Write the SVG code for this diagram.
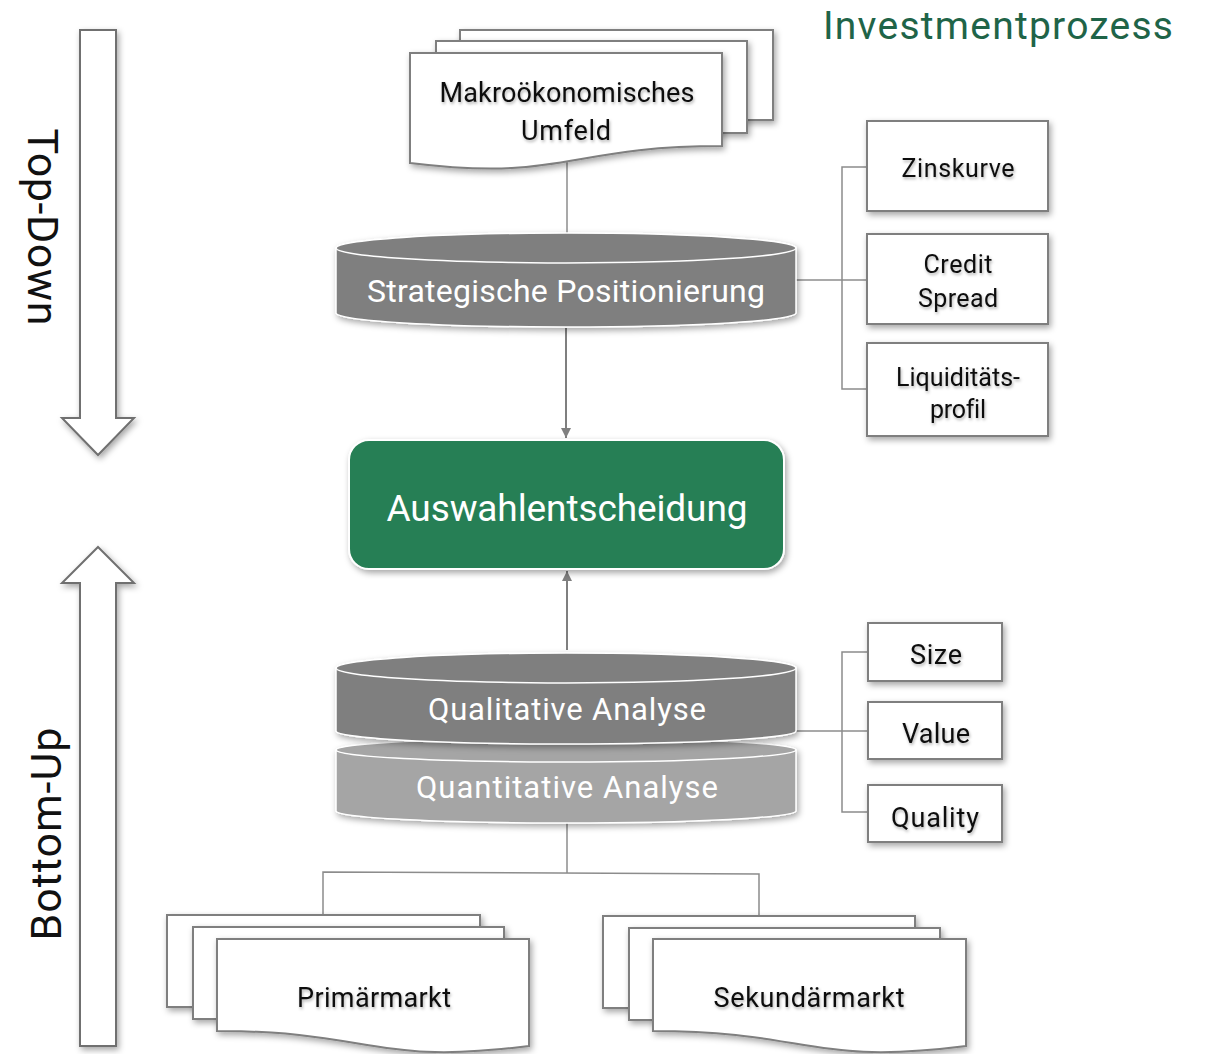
<svg xmlns="http://www.w3.org/2000/svg" width="1205" height="1054" viewBox="0 0 1205 1054">
  <defs>
    <filter id="sh" x="-10%" y="-10%" width="130%" height="140%">
      <feDropShadow dx="2" dy="3" stdDeviation="3" flood-color="#000" flood-opacity="0.35"/>
    </filter>
    <filter id="tsh" x="-10%" y="-20%" width="130%" height="160%">
      <feDropShadow dx="1" dy="2" stdDeviation="1.5" flood-color="#000" flood-opacity="0.3"/>
    </filter>
    <marker id="ah" viewBox="0 0 10 10" refX="10" refY="5" markerWidth="5" markerHeight="5" orient="auto-start-reverse">
      <path d="M0,0 L10,5 L0,10 Z" fill="#7f7f7f"/>
    </marker>
  </defs>
  <style>
    text{font-variant-ligatures:none}
    .doc{fill:#fff;stroke:#7f7f7f;stroke-width:2;filter:url(#sh)}
    .box{fill:#fff;stroke:#7f7f7f;stroke-width:2;filter:url(#sh)}
    .conn{fill:none;stroke:#8c8c8c;stroke-width:1.5}
    .t{font-family:Roboto,"Liberation Sans",sans-serif;fill:#111;text-anchor:middle;filter:url(#tsh)}
    .w{font-family:Roboto,"Liberation Sans",sans-serif;fill:#fff;text-anchor:middle}
    .cyl{stroke:#fff;stroke-width:1.5}
    .bigarrow{fill:#fff;stroke:#6f6f6f;stroke-width:2;filter:url(#sh)}
  </style>
  <rect width="1205" height="1054" fill="#fff"/>

  <text x="998" y="39" font-family="Roboto,'Liberation Sans',sans-serif" font-size="39" fill="#1f6448" text-anchor="middle" textLength="350">Investmentprozess</text>

  <!-- connectors -->
  <g id="connectors">
    <line class="conn" x1="567" y1="157" x2="567" y2="236"/>
    <line x1="566" y1="328" x2="566" y2="438" stroke="#7f7f7f" stroke-width="2" marker-end="url(#ah)"/>
    <line x1="567" y1="650" x2="567" y2="571" stroke="#7f7f7f" stroke-width="2" marker-end="url(#ah)"/>
    <polyline class="conn" points="796,280 867,280"/>
    <polyline class="conn" points="867,167 842,167 842,389 867,389"/>
    <polyline class="conn" points="796,731 867,731"/>
    <polyline class="conn" points="867,652 842,652 842,812 867,812"/>
    <line class="conn" x1="567" y1="823" x2="567" y2="873"/>
    <polyline class="conn" points="323,915 323,872 759,874 759,915"/>
  </g>

  <!-- big arrows -->
  <g id="top-down">
    <path class="bigarrow" d="M80,30 H116 V418 H134 L98,455 L62,418 H80 Z"/>
    <text transform="translate(28,227) rotate(90)" font-family="Roboto,'Liberation Sans',sans-serif" font-size="43" fill="#111" text-anchor="middle" textLength="197">Top-Down</text>
  </g>
  <g id="bottom-up">
    <path class="bigarrow" d="M98,547 L134,583 H116 V1046 H80 V583 H62 Z"/>
    <text transform="translate(61,834) rotate(-90)" font-family="Roboto,'Liberation Sans',sans-serif" font-size="43" fill="#111" text-anchor="middle" textLength="213">Bottom-Up</text>
  </g>

  <!-- Makro docs -->
  <g id="makro">
    <rect class="doc" x="460" y="30" width="313" height="90"/>
    <rect class="doc" x="436" y="41" width="311" height="92"/>
    <path class="doc" d="M410,53 H722 V146 C566,146 566,182 410,163 Z"/>
    <text class="t" x="567" y="102" font-size="27" textLength="255">Makroökonomisches</text>
    <text class="t" x="566" y="140" font-size="27" textLength="90">Umfeld</text>
  </g>

  <g id="strategische">
    <g filter="url(#sh)">
      <path class="cyl" d="M336,248 V313 A230,14 0 0 0 796,313 V248 Z" fill="#7f7f7f"/>
      <ellipse class="cyl" cx="566" cy="248" rx="230" ry="15" fill="#7f7f7f"/>
    </g>
    <text class="w" x="566" y="302" font-size="32" textLength="398">Strategische Positionierung</text>
  </g>

  <g id="zinskurve">
    <rect class="box" x="867" y="121" width="181" height="90"/>
    <text class="t" x="958" y="177" font-size="25" textLength="113">Zinskurve</text>
  </g>
  <g id="credit">
    <rect class="box" x="867" y="234" width="181" height="90"/>
    <text class="t" x="958" y="273" font-size="25" textLength="69">Credit</text>
    <text class="t" x="958" y="307" font-size="25" textLength="80">Spread</text>
  </g>
  <g id="liquiditaet">
    <rect class="box" x="867" y="343" width="181" height="93"/>
    <text class="t" x="958" y="386" font-size="25" textLength="124">Liquiditäts-</text>
    <text class="t" x="958" y="418" font-size="25" textLength="56">profil</text>
  </g>

  <g id="auswahl">
    <rect x="349" y="440" width="435" height="129" rx="20" fill="#277f55" stroke="#fff" stroke-width="2" filter="url(#sh)"/>
    <text class="w" x="567" y="521" font-size="37" textLength="361">Auswahlentscheidung</text>
  </g>

  <g id="quantitative">
    <g filter="url(#sh)">
      <path class="cyl" d="M336,750 V811 A230,12 0 0 0 796,811 V750 Z" fill="#a5a5a5"/>
      <ellipse class="cyl" cx="566" cy="750" rx="230" ry="12" fill="#a5a5a5"/>
    </g>
    <text class="w" x="567" y="798" font-size="31" textLength="302">Quantitative Analyse</text>
  </g>
  <g id="qualitative">
    <g filter="url(#sh)">
      <path class="cyl" d="M336,668 V731 A230,13 0 0 0 796,731 V668 Z" fill="#7f7f7f"/>
      <ellipse class="cyl" cx="566" cy="668" rx="230" ry="15" fill="#7f7f7f"/>
    </g>
    <text class="w" x="567" y="720" font-size="31" textLength="278">Qualitative Analyse</text>
  </g>

  <g id="size">
    <rect class="box" x="868" y="623" width="134" height="58"/>
    <text class="t" x="936" y="664" font-size="27" textLength="52">Size</text>
  </g>
  <g id="value">
    <rect class="box" x="868" y="702" width="134" height="57"/>
    <text class="t" x="936" y="743" font-size="27" textLength="68">Value</text>
  </g>
  <g id="quality">
    <rect class="box" x="868" y="785" width="134" height="57"/>
    <text class="t" x="935" y="827" font-size="27" textLength="88">Quality</text>
  </g>

  <g id="primaermarkt">
    <rect class="doc" x="167" y="915" width="313" height="92"/>
    <rect class="doc" x="193" y="927" width="311" height="92"/>
    <path class="doc" d="M217,939 H529 V1046 C373,1066 373,1031 217,1031 Z"/>
    <text class="t" x="374" y="1007" font-size="27" textLength="154">Primärmarkt</text>
  </g>
  <g id="sekundaermarkt">
    <rect class="doc" x="603" y="916" width="312" height="92"/>
    <rect class="doc" x="629" y="928" width="311" height="92"/>
    <path class="doc" d="M653,939 H966 V1046 C810,1066 810,1031 653,1031 Z"/>
    <text class="t" x="809" y="1007" font-size="27" textLength="191">Sekundärmarkt</text>
  </g>
</svg>
